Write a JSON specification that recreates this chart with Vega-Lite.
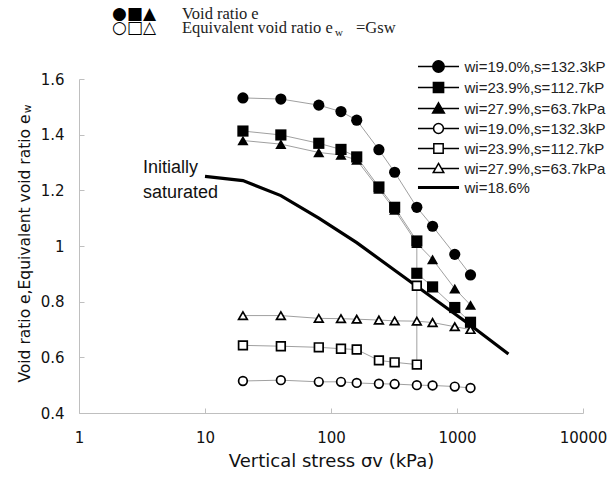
{
  "$schema": "https://vega.github.io/schema/vega-lite/v6.json",
  "width": 504,
  "height": 334,
  "autosize": {"type": "none"},
  "padding": {"left": 79, "top": 79, "right": 27, "bottom": 69},
  "background": "white",
  "config": {"view": {"stroke": null}},
  "data": {"values": [
    {"series":"e1","sample":"s1","i":0,"sigma":20,"v":1.532},
    {"series":"e1","sample":"s1","i":1,"sigma":40,"v":1.528},
    {"series":"e1","sample":"s1","i":2,"sigma":80,"v":1.506},
    {"series":"e1","sample":"s1","i":3,"sigma":120,"v":1.483},
    {"series":"e1","sample":"s1","i":4,"sigma":160,"v":1.452},
    {"series":"e1","sample":"s1","i":5,"sigma":240,"v":1.346},
    {"series":"e1","sample":"s1","i":6,"sigma":320,"v":1.265},
    {"series":"e1","sample":"s1","i":7,"sigma":480,"v":1.139},
    {"series":"e1","sample":"s1","i":8,"sigma":640,"v":1.071},
    {"series":"e1","sample":"s1","i":9,"sigma":960,"v":0.97},
    {"series":"e1","sample":"s1","i":10,"sigma":1280,"v":0.896},
    {"series":"e2","sample":"s2","i":0,"sigma":20,"v":1.413},
    {"series":"e2","sample":"s2","i":1,"sigma":40,"v":1.399},
    {"series":"e2","sample":"s2","i":2,"sigma":80,"v":1.369},
    {"series":"e2","sample":"s2","i":3,"sigma":120,"v":1.347},
    {"series":"e2","sample":"s2","i":4,"sigma":160,"v":1.32},
    {"series":"e2","sample":"s2","i":5,"sigma":240,"v":1.212},
    {"series":"e2","sample":"s2","i":6,"sigma":320,"v":1.139},
    {"series":"e2","sample":"s2","i":7,"sigma":480,"v":1.018},
    {"series":"e2","sample":"s2","i":8,"sigma":480,"v":0.902},
    {"series":"e2","sample":"s2","i":9,"sigma":640,"v":0.853},
    {"series":"e2","sample":"s2","i":10,"sigma":960,"v":0.779},
    {"series":"e2","sample":"s2","i":11,"sigma":1280,"v":0.726},
    {"series":"e3","sample":"s3","i":0,"sigma":20,"v":1.379},
    {"series":"e3","sample":"s3","i":1,"sigma":40,"v":1.366},
    {"series":"e3","sample":"s3","i":2,"sigma":80,"v":1.336},
    {"series":"e3","sample":"s3","i":3,"sigma":120,"v":1.327},
    {"series":"e3","sample":"s3","i":4,"sigma":160,"v":1.309},
    {"series":"e3","sample":"s3","i":5,"sigma":240,"v":1.205},
    {"series":"e3","sample":"s3","i":6,"sigma":320,"v":1.13},
    {"series":"e3","sample":"s3","i":7,"sigma":480,"v":1.01},
    {"series":"e3","sample":"s3","i":8,"sigma":640,"v":0.952},
    {"series":"e3","sample":"s3","i":9,"sigma":960,"v":0.847},
    {"series":"e3","sample":"s3","i":10,"sigma":1280,"v":0.788},
    {"series":"w1","sample":"s1","i":0,"sigma":20,"v":0.515},
    {"series":"w1","sample":"s1","i":1,"sigma":40,"v":0.518},
    {"series":"w1","sample":"s1","i":2,"sigma":80,"v":0.512},
    {"series":"w1","sample":"s1","i":3,"sigma":120,"v":0.512},
    {"series":"w1","sample":"s1","i":4,"sigma":160,"v":0.508},
    {"series":"w1","sample":"s1","i":5,"sigma":240,"v":0.505},
    {"series":"w1","sample":"s1","i":6,"sigma":320,"v":0.504},
    {"series":"w1","sample":"s1","i":7,"sigma":480,"v":0.5},
    {"series":"w1","sample":"s1","i":8,"sigma":640,"v":0.499},
    {"series":"w1","sample":"s1","i":9,"sigma":960,"v":0.495},
    {"series":"w1","sample":"s1","i":10,"sigma":1280,"v":0.49},
    {"series":"w2","sample":"s2","i":0,"sigma":20,"v":0.643},
    {"series":"w2","sample":"s2","i":1,"sigma":40,"v":0.64},
    {"series":"w2","sample":"s2","i":2,"sigma":80,"v":0.636},
    {"series":"w2","sample":"s2","i":3,"sigma":120,"v":0.631},
    {"series":"w2","sample":"s2","i":4,"sigma":160,"v":0.628},
    {"series":"w2","sample":"s2","i":5,"sigma":240,"v":0.589},
    {"series":"w2","sample":"s2","i":6,"sigma":320,"v":0.582},
    {"series":"w2","sample":"s2","i":7,"sigma":480,"v":0.574},
    {"series":"w2","sample":"s2","i":8,"sigma":480,"v":0.857},
    {"series":"w3","sample":"s3","i":0,"sigma":20,"v":0.75},
    {"series":"w3","sample":"s3","i":1,"sigma":40,"v":0.75},
    {"series":"w3","sample":"s3","i":2,"sigma":80,"v":0.74},
    {"series":"w3","sample":"s3","i":3,"sigma":120,"v":0.739},
    {"series":"w3","sample":"s3","i":4,"sigma":160,"v":0.737},
    {"series":"w3","sample":"s3","i":5,"sigma":240,"v":0.734},
    {"series":"w3","sample":"s3","i":6,"sigma":320,"v":0.731},
    {"series":"w3","sample":"s3","i":7,"sigma":480,"v":0.73},
    {"series":"w3","sample":"s3","i":8,"sigma":640,"v":0.725},
    {"series":"w3","sample":"s3","i":9,"sigma":960,"v":0.71},
    {"series":"w3","sample":"s3","i":10,"sigma":1280,"v":0.7},
    {"series":"sat","sample":"s0","i":0,"sigma":10,"v":1.25},
    {"series":"sat","sample":"s0","i":1,"sigma":20,"v":1.235},
    {"series":"sat","sample":"s0","i":2,"sigma":40,"v":1.181},
    {"series":"sat","sample":"s0","i":3,"sigma":80,"v":1.1},
    {"series":"sat","sample":"s0","i":4,"sigma":160,"v":1.012},
    {"series":"sat","sample":"s0","i":5,"sigma":320,"v":0.913},
    {"series":"sat","sample":"s0","i":6,"sigma":640,"v":0.814},
    {"series":"sat","sample":"s0","i":7,"sigma":1280,"v":0.715},
    {"series":"sat","sample":"s0","i":8,"sigma":2560,"v":0.612}
  ]},
  "encoding": {
    "x": {"field": "sigma", "type": "quantitative",
      "scale": {"type": "log", "domain": [1, 10000]},
      "axis": {"values": [1, 10, 100, 1000, 10000], "format": "d", "grid": false, "tickSize": -5, "labelPadding": 22, "labelFont": "DejaVu Sans", "labelFontSize": 15, "labelColor": "#111", "labelFlush": false, "domainColor": "#bfbfbf", "tickColor": "#bfbfbf", "title": "Vertical stress σv (kPa)", "titleFont": "DejaVu Sans", "titleFontSize": 18, "titleFontWeight": "normal", "titleColor": "#111", "titlePadding": 7}},
    "y": {"field": "v", "type": "quantitative",
      "scale": {"domain": [0.4, 1.6], "nice": false, "zero": false},
      "axis": {"values": [0.4, 0.6, 0.8, 1, 1.2, 1.4, 1.6], "format": "~g", "grid": false, "tickSize": -5, "labelPadding": 20, "labelFont": "DejaVu Sans", "labelFontSize": 15, "labelColor": "#111", "domainColor": "#bfbfbf", "tickColor": "#bfbfbf", "title": null}}
  },
  "layer": [
    {"transform": [{"filter": {"field": "series", "oneOf": ["e1","e2","e3","w1","w2","w3"]}}],
     "mark": {"type": "line", "color": "#a0a0a0", "strokeWidth": 1},
     "encoding": {"detail": {"field": "series"}, "order": {"field": "i"}}},
    {"transform": [{"filter": {"field": "series", "equal": "sat"}}],
     "mark": {"type": "line", "color": "black", "strokeWidth": 3.2},
     "encoding": {"order": {"field": "i"}}},
    {"transform": [{"filter": {"field": "series", "oneOf": ["e1","e2","e3"]}}],
     "mark": {"type": "point", "filled": true, "color": "black", "size": 125, "opacity": 1},
     "encoding": {"shape": {"field": "sample", "type": "nominal", "scale": {"domain": ["s1","s2","s3"], "range": ["circle","square","triangle-up"]}, "legend": null}}},
    {"transform": [{"filter": {"field": "series", "oneOf": ["w1","w2","w3"]}}],
     "mark": {"type": "point", "filled": false, "fill": "white", "stroke": "black", "strokeWidth": 1.7, "size": 75, "opacity": 1},
     "encoding": {"shape": {"field": "sample", "type": "nominal", "scale": {"domain": ["s1","s2","s3"], "range": ["circle","square","triangle-up"]}, "legend": null}}},
    {"mark": {"type": "point", "opacity": 0},
     "encoding": {"shape": {"field": "series", "type": "nominal",
       "scale": {"domain": ["e1","e2","e3","w1","w2","w3","sat"],
         "range": [
           "M-3.42,0H-0.95M0.95,0H3.42M0.95,0C0.95,0.525 0.525,0.95 0,0.95C-0.525,0.95 -0.95,0.525 -0.95,0C-0.95,-0.525 -0.525,-0.95 0,-0.95C0.525,-0.95 0.95,-0.525 0.95,0Z",
           "M-3.42,0H-0.85M0.85,0H3.42M-0.85,-0.85H0.85V0.85H-0.85Z",
           "M-3.42,0H-0.55M0.55,0H3.42M0,-0.95L0.98,0.75L-0.98,0.75Z",
           "M-3.42,0H-0.82M0.82,0H3.42M0.82,0C0.82,0.453 0.453,0.82 0,0.82C-0.453,0.82 -0.82,0.453 -0.82,0C-0.82,-0.453 -0.453,-0.82 0,-0.82C0.453,-0.82 0.82,-0.453 0.82,0Z",
           "M-3.42,0H-0.78M0.78,0H3.42M-0.78,-0.78H0.78V0.78H-0.78Z",
           "M-3.42,0H-0.49M0.49,0H3.42M0,-0.85L0.88,0.68L-0.88,0.68Z",
           "M-3.42,0H3.42"
         ]},
       "legend": {"title": null, "orient": "none", "legendX": 352, "legendY": -20, "padding": 0, "offset": 0,
         "symbolSize": 144, "symbolStrokeWidth": 1.5, "symbolStrokeColor": "black", "symbolOpacity": 1,
         "labelFont": "Liberation Sans", "labelFontSize": 15, "labelColor": "#222", "labelOffset": 18.5, "labelLimit": 300, "rowPadding": 3,
         "labelExpr": "['wi=19.0%,s=132.3kP','wi=23.9%,s=112.7kP','wi=27.9%,s=63.7kPa','wi=19.0%,s=132.3kP','wi=23.9%,s=112.7kP','wi=27.9%,s=63.7kPa','wi=18.6%'][indexof(['e1','e2','e3','w1','w2','w3','sat'], datum.value)]",
         "encoding": {"symbols": {
           "fill": {"value": {"expr": "indexof(['e1','e2','e3','sat'], datum.value) >= 0 ? 'black' : 'white'"}},
           "stroke": {"value": "black"},
           "strokeWidth": {"value": {"expr": "datum.value === 'sat' ? 3.2 : 1.5"}},
           "opacity": {"value": 1}}}}}}},
    {"transform": [{"filter": "datum.series === 'sat' && datum.i === 0"}],
     "mark": {"type": "text", "text": ["Initially", "saturated"], "align": "left", "baseline": "alphabetic", "font": "Liberation Sans", "fontSize": 18, "lineHeight": 25, "color": "#111"},
     "encoding": {"x": {"datum": 3.22, "type": "quantitative"}, "y": {"datum": 1.261, "type": "quantitative"}}},
    {"transform": [{"filter": "datum.series === 'sat' && datum.i === 0"}],
     "mark": {"type": "text", "text": "●■▲", "align": "left", "baseline": "middle", "font": "DejaVu Sans", "fontSize": 17, "color": "black"},
     "encoding": {"x": {"datum": 1.828, "type": "quantitative"}, "y": {"datum": 1.8318, "type": "quantitative"}}},
    {"transform": [{"filter": "datum.series === 'sat' && datum.i === 0"}],
     "mark": {"type": "text", "text": "○□△", "align": "left", "baseline": "middle", "font": "DejaVu Sans", "fontSize": 17, "color": "black"},
     "encoding": {"x": {"datum": 1.828, "type": "quantitative"}, "y": {"datum": 1.7815, "type": "quantitative"}}},
    {"transform": [{"filter": "datum.series === 'sat' && datum.i === 0"}],
     "mark": {"type": "text", "text": "Void ratio e", "align": "left", "baseline": "middle", "font": "Liberation Serif", "fontSize": 16.5, "color": "#222"},
     "encoding": {"x": {"datum": 6.57, "type": "quantitative"}, "y": {"datum": 1.8318, "type": "quantitative"}}},
    {"transform": [{"filter": "datum.series === 'sat' && datum.i === 0"}],
     "mark": {"type": "text", "text": "Equivalent void ratio e", "align": "left", "baseline": "middle", "font": "Liberation Serif", "fontSize": 16.5, "color": "#222"},
     "encoding": {"x": {"datum": 6.57, "type": "quantitative"}, "y": {"datum": 1.7815, "type": "quantitative"}}},
    {"transform": [{"filter": "datum.series === 'sat' && datum.i === 0"}],
     "mark": {"type": "text", "text": "w", "align": "left", "baseline": "middle", "font": "Liberation Serif", "fontSize": 11, "color": "#222"},
     "encoding": {"x": {"datum": 107.6, "type": "quantitative"}, "y": {"datum": 1.7653, "type": "quantitative"}}},
    {"transform": [{"filter": "datum.series === 'sat' && datum.i === 0"}],
     "mark": {"type": "text", "text": "=Gsw", "align": "left", "baseline": "middle", "font": "Liberation Serif", "fontSize": 16.5, "color": "#222"},
     "encoding": {"x": {"datum": 157.9, "type": "quantitative"}, "y": {"datum": 1.7815, "type": "quantitative"}}},
    {"transform": [{"filter": "datum.series === 'sat' && datum.i === 0"}],
     "mark": {"type": "text", "text": "Void ratio e,Equivalent void ratio e", "angle": 270, "align": "center", "baseline": "middle", "font": "DejaVu Sans", "fontSize": 15.5, "color": "#111"},
     "encoding": {"x": {"datum": 0.3727, "type": "quantitative"}, "y": {"datum": 0.991, "type": "quantitative"}}},
    {"transform": [{"filter": "datum.series === 'sat' && datum.i === 0"}],
     "mark": {"type": "text", "text": "w", "angle": 270, "align": "center", "baseline": "middle", "font": "DejaVu Sans", "fontSize": 10.5, "color": "#111"},
     "encoding": {"x": {"datum": 0.3937, "type": "quantitative"}, "y": {"datum": 1.492, "type": "quantitative"}}}
  ],
  "resolve": {"scale": {"shape": "independent"}}
}
